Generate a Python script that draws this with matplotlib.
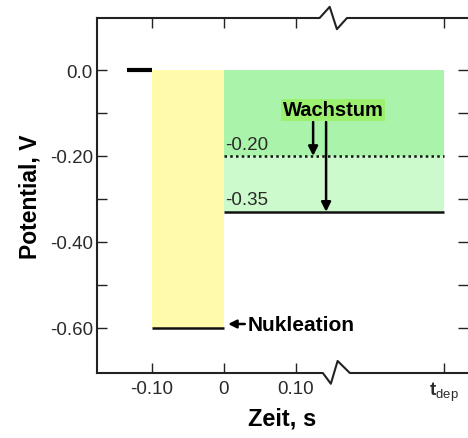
import matplotlib
matplotlib.use("Agg")
import matplotlib.pyplot as plt
from matplotlib.lines import Line2D

plt.rcParams['font.family'] = ['Liberation Sans', 'DejaVu Sans']
plt.rcParams['mathtext.fontset'] = 'custom'
plt.rcParams['mathtext.rm'] = 'Liberation Sans'
plt.rcParams['mathtext.bf'] = 'Liberation Sans:bold'

# ---- data ----
t_dep = 0.305
rest_t = [-0.135, -0.10]
rest_E = 0.0
nuc_t = [-0.10, 0.0]
nuc_E = -0.60
grow_t = [0.0, t_dep]
grow_E_high = -0.20
grow_E_low = -0.33
grow_labels = ["-0.20", "-0.35"]
x_ticks = [-0.10, 0.0, 0.10, t_dep]
x_ticklabels = ["-0.10", "0", "0.10", r"$\mathbf{t}_{\mathrm{dep}}$"]
y_ticks = [0.0, -0.20, -0.40, -0.60]
y_ticklabels = ["0.0", "-0.20", "-0.40", "-0.60"]
y_minor = [-0.10, -0.30, -0.50]
arrow_x = [0.124, 0.142]
arrow_top = -0.121

fig = plt.figure(figsize=(4.68, 4.39), dpi=100)
ax = fig.add_axes([97/468, 1-374/439, 1-97/468, (374-19)/439])
xlim = (-0.176, 0.339)
ylim = (-0.705, 0.121)
ax.set_xlim(*xlim)
ax.set_ylim(*ylim)

# regions
ax.fill_between(nuc_t, [rest_E]*2, [nuc_E]*2, color='#FFFBAA', lw=0, zorder=1)
ax.fill_between(grow_t, [rest_E]*2, [grow_E_high]*2, color='#AAF3AA', lw=0, zorder=1)
ax.fill_between(grow_t, [grow_E_high]*2, [grow_E_low]*2, color='#CCFACC', lw=0, zorder=1)

# lines
ax.plot(rest_t, [rest_E]*2, color='k', lw=3, solid_capstyle='butt', zorder=3)
ax.plot(nuc_t, [nuc_E]*2, color='#111111', lw=1.8, solid_capstyle='butt', zorder=3)
ax.plot(grow_t, [grow_E_high]*2, color='#111111', lw=1.8, ls=(0, (1.0, 1.3)), zorder=3)
ax.plot(grow_t, [grow_E_low]*2, color='#111111', lw=1.8, solid_capstyle='butt', zorder=3)

ax.text(grow_t[0] + 0.002, grow_E_high + 0.008, grow_labels[0], fontsize=13.5,
        color='#2a2a2a', ha='left', va='bottom', zorder=4)
ax.text(grow_t[0] + 0.002, grow_E_low + 0.008, grow_labels[1], fontsize=13.5,
        color='#2a2a2a', ha='left', va='bottom', zorder=4)

# growth arrows
for xa, yb in zip(arrow_x, [grow_E_high, grow_E_low]):
    ax.annotate('', xy=(xa, yb), xytext=(xa, arrow_top),
                arrowprops=dict(arrowstyle='-|>', lw=1.8, color='k',
                                mutation_scale=14, shrinkA=0, shrinkB=0), zorder=5)
ax.text(0.152, -0.093, 'Wachstum', fontsize=14.5, fontweight='bold', ha='center',
        va='center', zorder=6,
        bbox=dict(boxstyle='square,pad=0.08', fc='#9CF070', ec='none'))

# nucleation arrow
ax.annotate('Nukleation', xy=(0.006, -0.591), xytext=(0.033, -0.591),
            fontsize=15, fontweight='bold', ha='left', va='center',
            arrowprops=dict(arrowstyle='-|>', lw=1.8, color='k',
                            mutation_scale=12, shrinkA=0, shrinkB=0), zorder=5)

# axes styling
for s in ['top', 'bottom', 'right']:
    ax.spines[s].set_visible(False)
ax.spines['left'].set_linewidth(1.5)
ax.spines['left'].set_color('#222222')

ax.set_xticks(x_ticks)
ax.set_xticklabels(x_ticklabels)
ax.set_yticks(y_ticks)
ax.set_yticklabels(y_ticklabels)
ax.set_yticks(y_minor, minor=True)
ax.tick_params(axis='both', which='both', direction='in', colors='#222222',
               labelsize=13.5, width=1.0)
ax.tick_params(axis='x', which='major', length=7, pad=5, top=True, bottom=True)
ax.tick_params(axis='y', which='major', length=7, pad=3, left=True, right=True)
ax.tick_params(axis='y', which='minor', length=7, left=True, right=True)
ax.tick_params(axis='both', which='both', labelcolor='#2a2a2a')

# top/bottom spines with break marks
ybot, ytop = ylim
bx0, bx1, bx2, bx3 = 0.1375, 0.1486, 0.158, 0.175
bottom_x = [xlim[0], bx0, bx1, bx2, bx3, xlim[1]]
bottom_y = [ybot, ybot, ybot - 0.025, ybot + 0.028, ybot, ybot]
tx0, tx1, tx2, tx3 = 0.133, 0.147, 0.157, 0.171
top_x = [xlim[0], tx0, tx1, tx2, tx3, xlim[1]]
top_y = [ytop, ytop, ytop + 0.026, ytop - 0.026, ytop, ytop]
for xs, ys in [(bottom_x, bottom_y), (top_x, top_y)]:
    ax.add_line(Line2D(xs, ys, color='#222222', lw=1.5, clip_on=False, zorder=10))

ax.set_xlabel('Zeit, s', fontsize=17, fontweight='bold', labelpad=2)
ax.set_ylabel('Potential, V', fontsize=16.5, fontweight='bold', labelpad=6)

fig.savefig('out.png', dpi=100)
